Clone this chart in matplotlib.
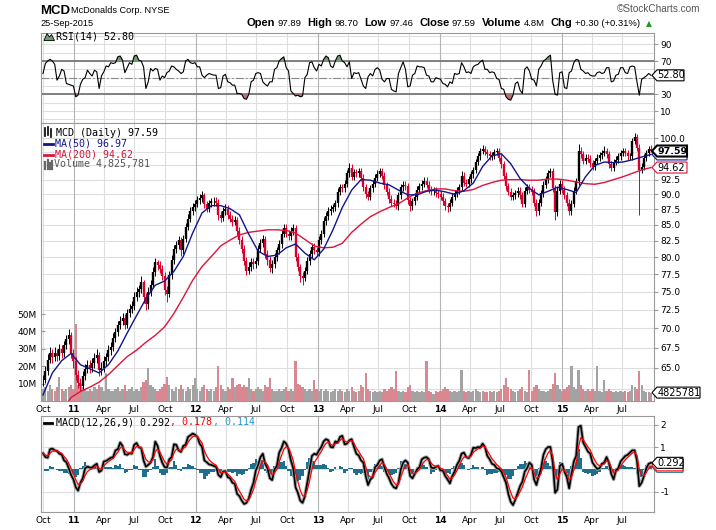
import matplotlib
matplotlib.use("Agg")
import matplotlib.pyplot as plt
from matplotlib.lines import Line2D
from matplotlib.patches import Polygon
from matplotlib import font_manager
import matplotlib.ticker as mticker
import numpy as np
import pandas as pd

plt.rcParams["font.family"] = ["DejaVu Sans"]
plt.rcParams["axes.unicode_minus"] = False

W, H = 716, 530

# weekly samples (Friday of each week)
weeks = pd.date_range("2010-10-01", periods=261, freq="7D")

close = [
    63.5, 64.6, 66.0, 66.8, 66.3, 66.9, 66.5, 67.4, 66.8, 67.8,
    68.6, 69.2, 66.8, 65.8, 64.2, 63.2, 62.8, 64.0, 64.9, 65.4,
    65.0, 65.6, 66.2, 66.6, 64.8, 65.0, 65.9, 66.3, 67.2, 67.6,
    68.8, 69.5, 70.4, 71.0, 71.4, 70.5, 72.0, 72.6, 73.0, 74.2,
    74.9, 75.3, 76.3, 74.2, 73.3, 75.0, 76.0, 77.8, 79.2, 78.8,
    78.3, 77.2, 75.2, 74.6, 77.4, 79.6, 81.2, 81.8, 82.6, 81.0,
    82.8, 84.6, 86.0, 87.2, 87.8, 88.4, 89.0, 89.3, 89.8, 88.3,
    87.6, 88.5, 88.8, 88.9, 88.6, 86.5, 86.1, 87.2, 87.6, 86.6,
    86.0, 85.4, 85.8, 84.0, 82.6, 81.2, 79.4, 78.0, 78.6, 79.2,
    79.0, 79.4, 81.2, 82.2, 82.8, 80.5, 79.5, 78.4, 79.0, 80.0,
    81.0, 82.0, 83.6, 84.5, 83.6, 83.2, 84.0, 84.5, 80.0, 78.5,
    77.2, 77.0, 78.0, 79.4, 80.5, 81.5, 81.0, 80.8, 82.6, 83.6,
    85.6, 86.4, 87.2, 87.6, 87.8, 88.5, 90.4, 91.2, 91.0, 91.8,
    93.6, 94.6, 93.0, 93.8, 93.6, 94.0, 92.8, 91.2, 90.0, 89.6,
    91.0, 91.8, 92.8, 93.5, 94.0, 93.2, 91.5, 90.4, 89.2, 88.6,
    88.4, 88.0, 89.8, 91.2, 91.6, 91.4, 89.0, 88.0, 88.8, 89.6,
    90.8, 91.4, 91.8, 92.3, 91.6, 90.8, 90.5, 90.6, 90.2, 90.0,
    89.6, 88.8, 88.0, 87.8, 88.6, 89.6, 90.2, 90.6, 91.2, 93.2,
    92.0, 91.8, 92.6, 93.4, 94.2, 95.6, 96.6, 97.6, 98.0, 97.4,
    97.0, 96.6, 96.8, 97.4, 97.6, 96.4, 95.2, 93.2, 91.4, 90.4,
    89.6, 89.8, 90.2, 90.6, 89.8, 88.4, 90.6, 91.2, 90.8, 90.4,
    88.6, 87.2, 88.6, 90.2, 91.6, 92.6, 93.6, 94.0, 91.0, 87.0,
    90.6, 91.8, 90.8, 89.8, 88.6, 87.2, 88.4, 90.6, 92.2, 97.6,
    97.0, 95.8, 96.4, 96.2, 95.4, 94.8, 95.8, 96.4, 96.8, 97.2,
    97.6, 97.0, 95.2, 94.6, 95.6, 96.0, 96.6, 97.2, 97.6, 97.2,
    96.6, 96.6, 99.4, 100.2, 98.2, 94.2, 94.8, 96.4, 97.2, 97.9, 97.59,
]

high = [
    64.2, 65.3, 66.7, 67.6, 67.4, 67.6, 67.4, 68.0, 67.9, 68.4,
    69.2, 69.9, 69.5, 67.4, 66.3, 64.8, 63.8, 64.6, 65.5, 66.0,
    66.0, 66.2, 66.8, 67.4, 67.0, 65.7, 66.5, 66.9, 67.8, 68.3,
    69.4, 70.1, 71.0, 71.7, 72.0, 71.9, 72.6, 73.3, 73.7, 74.9,
    75.6, 76.0, 77.2, 76.6, 74.8, 75.7, 76.7, 78.5, 79.8, 79.6,
    79.4, 78.9, 77.8, 75.8, 78.0, 80.3, 81.9, 82.5, 83.3, 83.0,
    83.4, 85.3, 86.7, 87.9, 88.6, 89.0, 89.7, 90.0, 90.5, 90.2,
    88.9, 89.1, 89.4, 89.5, 89.6, 89.2, 87.2, 87.8, 88.3, 88.2,
    87.2, 86.6, 86.4, 86.3, 84.6, 83.2, 81.8, 80.0, 79.2, 79.9,
    79.9, 80.0, 81.8, 82.8, 83.4, 83.2, 81.1, 80.1, 79.6, 80.6,
    81.6, 82.6, 84.2, 85.1, 85.1, 84.2, 84.6, 85.2, 85.0, 80.6,
    79.0, 77.8, 78.6, 80.0, 81.1, 82.1, 82.1, 81.6, 83.2, 84.2,
    86.2, 87.0, 87.8, 88.2, 88.4, 89.1, 91.0, 91.8, 91.8, 92.4,
    94.2, 95.4, 95.2, 94.4, 94.4, 94.6, 94.6, 93.4, 91.8, 90.6,
    91.6, 92.4, 93.4, 94.1, 94.6, 94.6, 93.8, 92.1, 91.0, 89.8,
    89.2, 89.0, 90.4, 91.8, 92.2, 92.2, 92.0, 89.6, 89.4, 90.2,
    91.4, 92.0, 92.4, 92.9, 92.9, 92.2, 91.4, 91.2, 91.2, 90.8,
    90.6, 90.2, 89.4, 88.6, 89.2, 90.2, 90.8, 91.2, 91.8, 94.0,
    93.8, 92.6, 93.2, 94.0, 94.8, 96.2, 97.2, 98.2, 98.7, 98.6,
    98.0, 97.6, 97.4, 98.0, 98.2, 98.2, 97.0, 95.8, 93.8, 92.0,
    91.0, 90.4, 90.8, 91.2, 91.2, 90.4, 91.2, 91.8, 91.8, 91.4,
    91.0, 89.2, 89.2, 90.8, 92.2, 93.2, 94.2, 94.6, 94.6, 91.6,
    91.2, 92.5, 92.4, 91.4, 90.4, 89.2, 89.0, 91.2, 92.8, 98.8,
    98.4, 97.6, 97.0, 97.0, 96.8, 96.0, 96.4, 97.0, 97.4, 97.8,
    98.6, 98.2, 97.6, 95.8, 96.2, 96.6, 97.2, 97.8, 98.2, 98.2,
    97.8, 97.2, 100.0, 101.0, 100.8, 98.8, 95.4, 97.0, 97.8, 98.5, 98.7,
]

low = [
    62.9, 63.2, 64.2, 65.6, 65.6, 65.8, 65.8, 66.0, 66.2, 66.4,
    67.3, 68.0, 66.2, 65.0, 63.6, 62.6, 62.2, 62.4, 63.5, 64.4,
    64.4, 64.5, 65.0, 65.6, 64.0, 64.2, 64.5, 65.3, 65.8, 66.6,
    67.1, 68.3, 69.0, 69.9, 70.4, 69.9, 70.1, 71.5, 72.0, 72.5,
    73.7, 74.3, 74.8, 73.4, 72.4, 72.6, 74.4, 75.5, 77.2, 78.1,
    77.6, 76.6, 74.5, 73.6, 74.2, 76.8, 79.0, 80.6, 81.3, 80.2,
    80.5, 82.3, 84.1, 85.5, 86.6, 87.2, 87.8, 88.4, 88.7, 87.7,
    87.0, 87.0, 87.9, 88.1, 88.0, 85.8, 85.4, 85.6, 86.6, 86.0,
    85.4, 84.8, 84.9, 83.4, 82.0, 80.6, 78.8, 77.4, 77.5, 78.0,
    78.3, 78.4, 78.9, 80.7, 81.6, 79.9, 78.9, 77.8, 77.6, 78.4,
    79.4, 80.4, 81.4, 83.0, 83.0, 82.6, 82.6, 83.4, 79.4, 77.9,
    76.4, 76.0, 76.5, 77.5, 78.9, 79.9, 80.4, 80.2, 80.2, 82.0,
    83.0, 85.0, 85.8, 86.6, 87.0, 87.2, 87.9, 89.8, 90.4, 90.4,
    91.2, 93.0, 92.4, 92.4, 93.0, 93.0, 92.2, 90.6, 89.4, 89.0,
    89.0, 90.4, 91.2, 92.2, 92.9, 92.6, 90.9, 89.8, 88.6, 88.0,
    87.8, 87.5, 87.4, 89.2, 90.6, 90.8, 88.4, 87.2, 87.4, 88.2,
    89.0, 90.2, 90.8, 91.2, 91.0, 90.2, 89.9, 89.9, 89.6, 89.4,
    89.0, 88.2, 87.4, 87.0, 87.2, 88.0, 89.0, 89.6, 90.0, 90.6,
    91.4, 91.2, 91.2, 92.0, 92.8, 93.6, 95.0, 96.0, 97.0, 96.8,
    96.4, 96.0, 96.0, 96.2, 96.8, 95.8, 94.6, 92.6, 90.8, 89.8,
    89.0, 89.0, 89.2, 89.6, 89.2, 87.8, 87.8, 90.0, 90.2, 89.8,
    88.0, 86.4, 86.6, 88.0, 89.6, 91.0, 92.0, 93.0, 90.4, 85.8,
    86.4, 90.0, 90.2, 89.2, 88.0, 86.6, 86.6, 87.8, 90.0, 91.6,
    96.4, 95.2, 95.2, 95.6, 94.8, 94.2, 94.2, 95.2, 95.8, 96.2,
    96.6, 96.4, 94.6, 94.0, 94.0, 95.0, 95.4, 96.0, 96.6, 96.6,
    96.0, 96.0, 96.0, 98.8, 97.6, 86.6, 93.6, 94.2, 95.8, 96.6, 97.46,
]

# volume in millions of shares
volume_m = [
    7, 8, 6, 9, 7, 6, 8, 14, 7, 6,
    7, 8, 9, 7, 44, 9, 10, 8, 7, 6,
    7, 6, 8, 7, 9, 8, 6, 16, 7, 6,
    6, 7, 8, 6, 7, 9, 6, 7, 8, 6,
    7, 6, 8, 11, 12, 19, 9, 8, 7, 6,
    7, 8, 10, 14, 9, 7, 6, 8, 7, 9,
    7, 6, 8, 7, 9, 13, 7, 6, 8, 9,
    7, 6, 7, 6, 8, 20, 9, 7, 6, 8,
    7, 13, 8, 9, 10, 8, 9, 8, 13, 7,
    6, 7, 8, 7, 6, 9, 8, 13, 7, 6,
    6, 7, 6, 7, 8, 6, 7, 6, 23, 10,
    9, 8, 7, 6, 7, 6, 12, 7, 6, 7,
    6, 7, 6, 5, 6, 7, 6, 7, 6, 5,
    7, 6, 8, 6, 5, 6, 9, 8, 16, 7,
    6, 5, 6, 5, 6, 5, 7, 6, 7, 8,
    7, 17, 6, 5, 6, 5, 8, 9, 6, 5,
    6, 5, 6, 5, 23, 6, 5, 4, 6, 5,
    6, 7, 8, 7, 6, 5, 6, 5, 6, 18,
    6, 5, 6, 5, 6, 7, 6, 5, 6, 5,
    5, 6, 5, 6, 5, 6, 7, 9, 13, 8,
    7, 6, 5, 6, 7, 8, 6, 5, 18, 6,
    8, 9, 7, 6, 6, 5, 6, 7, 10, 16,
    9, 7, 6, 7, 8, 9, 20, 8, 7, 18,
    9, 7, 6, 7, 6, 7, 6, 20, 6, 5,
    12, 6, 7, 6, 5, 6, 5, 6, 5, 6,
    5, 6, 9, 8, 7, 17, 9, 6, 5, 5, 4.83,
]

rsi14 = [
    55, 67, 70, 72, 70, 66, 47, 52, 60, 58,
    43, 42, 41, 40, 27, 29, 42, 48, 50, 59,
    55, 52, 59, 57, 37, 52, 57, 64, 63, 68,
    67, 68, 75, 76, 71, 56, 62, 68, 66, 76,
    77, 71, 70, 63, 37, 45, 61, 58, 61, 60,
    47, 52, 50, 56, 58, 64, 63, 60, 58, 55,
    57, 70, 72, 68, 67, 68, 63, 63, 53, 50,
    53, 55, 54, 53, 53, 37, 38, 52, 54, 45,
    44, 41, 41, 31, 31, 30, 25, 24, 30, 45,
    47, 55, 56, 55, 45, 42, 40, 45, 45, 60,
    62, 70, 73, 75, 62, 58, 34, 31, 28, 29,
    27, 28, 50, 54, 68, 69, 62, 58, 66, 64,
    72, 76, 74, 64, 62, 70, 76, 77, 70, 68,
    63, 69, 49, 56, 55, 56, 48, 40, 37, 51,
    55, 52, 60, 62, 59, 48, 45, 49, 49, 36,
    34, 33, 55, 62, 69, 60, 39, 40, 53, 55,
    64, 63, 63, 62, 53, 52, 45, 45, 50, 49,
    48, 43, 42, 39, 45, 43, 55, 54, 55, 68,
    63, 56, 57, 55, 63, 65, 66, 69, 71, 60,
    60, 56, 57, 56, 49, 48, 37, 36, 27, 24,
    23, 29, 43, 45, 35, 31, 60, 63, 58, 48,
    47, 40, 60, 64, 70, 72, 75, 77, 46, 30,
    29, 56, 57, 38, 37, 56, 58, 68, 72, 71,
    60, 58, 55, 56, 53, 52, 52, 56, 57, 55,
    56, 62, 62, 45, 46, 53, 54, 62, 62, 56,
    55, 63, 64, 63, 45, 29, 48, 50, 52, 55, 52.8,
]

macd_line = [
    0.72, 0.55, 0.52, 0.90, 0.93, 0.85, 0.82, 0.70, 0.66, 0.40,
    0.32, 0.05, -0.25, -0.45, -0.80, -0.95, -0.60, -0.40, 0.05, 0.12,
    0.08, 0.08, 0.18, 0.25, -0.12, -0.05, 0.35, 0.38, 0.45, 0.52,
    0.55, 0.85, 0.90, 1.20, 1.05, 0.68, 0.65, 0.72, 0.70, 1.10,
    1.18, 0.98, 0.96, 0.40, 0.12, 0.20, 0.30, 0.55, 1.24, 1.05,
    0.60, 0.30, 0.10, 0.08, 0.45, 0.55, 1.12, 1.10, 0.85, 0.78,
    1.05, 1.10, 1.45, 1.52, 1.60, 1.55, 1.45, 1.15, 1.00, 0.40,
    0.32, 0.22, 0.20, 0.15, 0.12, -0.25, -0.35, -0.10, -0.08, -0.35,
    -0.40, -0.60, -0.65, -1.10, -1.20, -1.40, -1.55, -1.50, -1.30, -0.90,
    -0.60, -0.05, 0.20, 0.55, 0.70, 0.25, 0.05, -0.40, -0.48, 0.00,
    0.15, 0.75, 0.95, 1.25, 1.15, 0.90, 0.40, 0.05, -0.80, -1.05,
    -1.40, -1.50, -1.20, -0.60, 0.00, 0.60, 0.70, 0.65, 0.85, 1.00,
    1.25, 1.35, 1.30, 1.00, 0.98, 1.25, 1.20, 1.45, 1.50, 1.12,
    1.15, 1.30, 1.35, 1.00, 0.70, 0.62, 0.40, 0.30, -0.30, -0.70,
    -0.45, -0.35, 0.10, 0.20, 0.40, 0.45, 0.10, -0.20, -0.40, -0.65,
    -0.80, -0.85, -0.60, 0.00, 0.30, 0.40, 0.30, -0.30, -0.40, -0.20,
    0.00, 0.10, 0.45, 0.52, 0.55, 0.45, 0.08, 0.05, 0.10, 0.15,
    -0.05, -0.05, -0.30, -0.45, -0.63, -0.30, -0.10, 0.20, 0.38, 0.70,
    0.75, 0.55, 0.50, 0.65, 0.97, 0.95, 1.00, 0.98, 1.15, 1.00,
    0.60, 0.45, 0.25, 0.20, 0.05, 0.02, -0.10, -0.35, -0.60, -1.10,
    -1.45, -1.60, -1.35, -1.05, -0.75, -0.55, -0.10, 0.05, 0.30, 0.20,
    -0.45, -0.70, -0.30, 0.05, 0.65, 0.90, 1.00, 1.00, 0.30, -1.05,
    -0.90, 0.15, 0.25, -0.10, -0.35, -0.85, -0.20, 0.35, 0.60, 1.90,
    1.95, 1.20, 1.00, 0.80, 0.70, 0.30, 0.15, 0.02, 0.05, 0.25,
    0.30, 0.55, 0.30, -0.20, -0.45, -0.05, 0.05, 0.35, 0.48, 0.60,
    0.65, 0.75, 0.85, 0.85, 0.40, -0.75, -0.60, -0.30, 0.05, 0.25, 0.292,
]

# moving averages read every 4 weeks
ma50_weeks = list(range(0, 261, 4))
ma50 = [
    61.8, 64.4, 65.9, 66.8, 65.4, 64.9, 64.4, 65.4, 67.1, 69.4,
    71.7, 74.0, 75.9, 76.5, 77.9, 80.1, 83.7, 86.9, 88.1, 88.1,
    87.6, 86.6, 83.5, 80.9, 80.1, 80.3, 81.4, 82.0, 80.6, 79.6,
    81.2, 84.2, 87.8, 90.7, 92.5, 92.4, 91.9, 91.6, 90.7, 89.9,
    89.9, 90.5, 90.7, 90.4, 90.0, 90.6, 91.9, 94.8, 96.7, 97.1,
    95.3, 92.7, 91.0, 89.9, 90.5, 91.2, 90.8, 90.3, 93.0, 95.0,
    95.6, 95.5, 95.6, 96.0, 96.5, 96.97,
]
ma200_weeks = [11] + list(range(12, 261, 4))
ma200 = [
    61.1,
    61.5, 62.2, 62.7, 63.3, 64.2, 65.3, 66.4, 67.2, 68.2, 69.1,
    70.2, 72.0, 74.2, 76.6, 78.6, 80.1, 81.7, 82.6, 83.4, 83.8,
    84.0, 84.2, 84.2, 84.1, 83.7, 82.7, 81.7, 81.4, 81.5, 82.1,
    83.8, 85.1, 86.3, 87.1, 87.8, 88.4, 89.4, 90.2, 90.6, 90.9,
    90.9, 90.6, 90.5, 90.8, 91.5, 92.0, 92.4, 92.5, 92.5, 92.4,
    92.4, 92.6, 92.6, 92.4, 92.1, 91.8, 91.7, 92.0, 92.5, 93.0,
    93.6, 94.2, 94.62,
]

for arr in (close, high, low, volume_m, rsi14, macd_line):
    assert len(arr) == len(weeks), len(arr)
assert len(ma50) == len(ma50_weeks) and len(ma200) == len(ma200_weeks)

price_ticks = [65.0, 67.5, 70.0, 72.5, 75.0, 77.5, 80.0, 82.5, 85.0, 87.5, 90.0, 92.5, 100.0]
price_grid = [62.5, 65.0, 67.5, 70.0, 72.5, 75.0, 77.5, 80.0, 82.5, 85.0, 87.5, 90.0, 92.5, 95.0, 97.5, 100.0]
vol_ticks = [10, 20, 30, 40, 50]

UP = "black"
DOWN = "#d9002c"
GRID = "#dedede"
YEARGRID = "#b4b4b4"
FRAME = "#9a9a9a"
TICKFS = 6.5

names = {f.name for f in font_manager.fontManager.ttflist}
NARROW = "Liberation Sans Narrow" if "Liberation Sans Narrow" in names else "Liberation Sans"

fig = plt.figure(figsize=(W / 100, H / 100), dpi=100)
fig.patch.set_facecolor("white")


def rect(l, t, r, b):
    return [l / W, 1 - b / H, (r - l) / W, (b - t) / H]


def fx(px):
    return px / W


def fy(py):
    return 1 - py / H


x_lo = pd.Timestamp("2010-09-25")
x_hi = pd.Timestamp("2015-10-04")
quarters = pd.date_range("2010-10-01", "2015-07-01", freq="QS-JAN")
qlabels = [("%02d" % (q.year % 100)) if q.month == 1 else q.strftime("%b") for q in quarters]


def frame(ax):
    for s in ax.spines.values():
        s.set_color(FRAME)
        s.set_linewidth(0.8)


def vgrid(ax):
    for q in quarters:
        ax.axvline(q, color=YEARGRID if q.month == 1 else GRID, lw=0.8, zorder=0)


def xlabels(ax):
    ax.set_xticks(quarters)
    ax.set_xticklabels(qlabels)
    ax.tick_params(axis="x", length=0, pad=3, labelsize=TICKFS)
    for lab, q in zip(ax.get_xticklabels(), quarters):
        if q.month == 1:
            lab.set_fontweight("bold")


def right_ticks(ax, ticks, labels):
    ax.yaxis.tick_right()
    ax.set_yticks(ticks)
    ax.set_yticklabels(labels)
    ax.yaxis.set_minor_locator(mticker.NullLocator())
    ax.tick_params(axis="y", length=3, width=0.8, color=FRAME, pad=1.5, labelsize=TICKFS)


_tag_z = [10]


def tag(ax, yval, text, width, ec="black", lw=0.8, bold=False, x_px=652):
    # value tag at the right edge; text=None draws only the (covered) box
    yd = ax.transData.transform((ax.get_xlim()[0], yval))[1]
    py = H - yd
    h = 11
    pts = [(x_px, py), (x_px + 5, py - h / 2), (x_px + width, py - h / 2),
           (x_px + width, py + h / 2), (x_px + 5, py + h / 2)]
    z = _tag_z[0]
    _tag_z[0] += 2
    fig.add_artist(Polygon([(fx(a), fy(b)) for a, b in pts], closed=True,
                           transform=fig.transFigure, fc="white", ec=ec, lw=lw, zorder=z))
    if text:
        fig.text(fx(x_px + 5.5), fy(py), text, fontsize=6.8 if bold else 7, va="center",
                 ha="left", fontweight="bold" if bold else "normal", zorder=z + 1)


def mono_pieces(px, py, pieces, size=7.2):
    # sequential pieces of monospace legend text
    step = 0.602 * size * 100 / 72
    n = 0
    for s, col in pieces:
        fig.text(fx(px + n * step), fy(py), s, fontsize=size, family="DejaVu Sans Mono",
                 color=col, va="center", ha="left", zorder=11)
        n += len(s)


def fline(xs, ys, **kw):
    fig.add_artist(Line2D([fx(a) for a in xs], [fy(b) for b in ys], **kw))


# ---------------- header ----------------
fig.text(fx(40), fy(10.5), "MCD", fontsize=9.5, fontweight="bold", family=NARROW, va="center")
fig.text(fx(71), fy(10.5), "McDonalds Corp. NYSE", fontsize=6.6, family="Liberation Sans", va="center")
fig.text(fx(40), fy(24), "25-Sep-2015", fontsize=6.6, family="Liberation Sans", va="center")
fig.text(fx(700), fy(9), "\u00a9StockCharts.com", fontsize=7.2, family="Liberation Sans",
         color="#555555", va="center", ha="right")

ohlc = [("Open", True), ("97.89", False), ("High", True), ("98.70", False),
        ("Low", True), ("97.46", False), ("Close", True), ("97.59", False),
        ("Volume", True), ("4.8M", False), ("Chg", True), ("+0.30 (+0.31%)", False)]
renderer = fig.canvas.get_renderer()
items = []
for s, b in ohlc:
    t = fig.text(0, fy(23.5), s, fontsize=8 if b else 6.8, va="center", ha="left",
                 family=NARROW if b else "Liberation Sans",
                 fontweight="bold" if b else "normal")
    items.append((t, t.get_window_extent(renderer).width, b))
arrow = fig.text(0, fy(23.5), "\u25b2", fontsize=5.5, color="#1a9a1a", va="center", ha="left")
aw = arrow.get_window_extent(renderer).width
gaps = [2.5 if b else 6 for _, _, b in items]
total = sum(w for _, w, _ in items) + sum(gaps) + aw
xcur = 652 - total
for (t, w, b), g in zip(items, gaps):
    t.set_x(fx(xcur))
    xcur += w + g
arrow.set_x(fx(xcur))

# ---------------- RSI panel ----------------
ax_r = fig.add_axes(rect(41, 33, 654, 123))
frame(ax_r)
ax_r.set_xlim(x_lo, x_hi)
ax_r.set_ylim(-4.4, 103.6)
for v in range(0, 101, 10):
    ax_r.axhline(v, color=GRID, lw=0.8, zorder=0)
vgrid(ax_r)
ax_r.axhline(70, color="#6e6e6e", lw=1.2, zorder=1)
ax_r.axhline(30, color="#6e6e6e", lw=1.2, zorder=1)
ax_r.axhline(50, color="#8a8a8a", lw=0.8, ls=(0, (7, 2, 1.5, 2)), zorder=1)
r = np.array(rsi14, dtype=float)
ax_r.fill_between(weeks, 70, r, where=r > 70, interpolate=True, color="#6f9f6f", lw=0, zorder=2)
ax_r.fill_between(weeks, 30, r, where=r < 30, interpolate=True, color="#b97070", lw=0, zorder=2)
ax_r.plot(weeks, r, color="black", lw=0.8, zorder=3)
ax_r.set_xticks([])
right_ticks(ax_r, [10, 30, 70, 90], ["10", "30", "70", "90"])
fig.add_artist(Polygon([(fx(a), fy(b)) for a, b in
                        [(44, 40.5), (47, 33.5), (49.5, 37), (51.5, 34.5), (54.5, 40.5)]],
                       closed=True, transform=fig.transFigure, fc="#6f9f6f", ec="black", lw=0.6))
mono_pieces(56, 36.5, [("RSI(14) 52.80", "black")])
tag(ax_r, 52.80, "52.80", 32)

# ---------------- price / volume panel ----------------
prect = rect(41, 123, 654, 401)
ax_bg = fig.add_axes(prect)
ax_bg.set_zorder(0)
ax_bg.set_yscale("log")
ax_bg.set_xlim(x_lo, x_hi)
ax_bg.set_ylim(61.1, 102.85)
for p in price_grid:
    ax_bg.axhline(p, color=GRID, lw=0.8, zorder=0)
vgrid(ax_bg)
ax_bg.set_xticks([])
ax_bg.set_yticks([])
ax_bg.yaxis.set_minor_locator(mticker.NullLocator())
frame(ax_bg)

ax_v = fig.add_axes(prect)
ax_v.set_zorder(1)
ax_v.patch.set_visible(False)
for s in ax_v.spines.values():
    s.set_visible(False)
ax_v.set_xlim(x_lo, x_hi)
ax_v.set_ylim(0, 159.8)
c = np.array(close, dtype=float)
o = np.r_[c[0], c[:-1]]
up = c >= o
vcol = np.where(up, "#a3a3a3", "#d98892")
ax_v.bar(weeks, volume_m, width=6.6, color=vcol, lw=0)
ax_v.set_xticks([])
ax_v.set_yticks(vol_ticks)
ax_v.set_yticklabels(["%dM" % v for v in vol_ticks])
ax_v.tick_params(axis="y", direction="in", length=3, width=0.8, color=FRAME, pad=3, labelsize=TICKFS)

ax_p = fig.add_axes(prect)
ax_p.set_zorder(2)
ax_p.patch.set_visible(False)
for s in ax_p.spines.values():
    s.set_visible(False)
ax_p.set_yscale("log")
ax_p.set_xlim(x_lo, x_hi)
ax_p.set_ylim(61.1, 102.85)
pcol = np.where(up, UP, DOWN)
ax_p.vlines(weeks, low, high, colors=pcol, lw=0.7)
ax_p.vlines(weeks, np.minimum(o, c), np.maximum(o, c), colors=pcol, lw=1.7)
ax_p.plot(weeks[ma200_weeks], ma200, color="#dc143c", lw=1.0)
ax_p.plot(weeks[ma50_weeks], ma50, color="#14148c", lw=1.0)
right_ticks(ax_p, price_ticks, ["%.1f" % v for v in price_ticks])
xlabels(ax_p)

# legend of the price panel
for xx, y1, y2 in [(45, 128, 136), (48, 127, 135), (51, 129, 137)]:
    fline([xx, xx], [y1, y2], color="black", lw=1.2)
mono_pieces(56, 132.5, [("MCD (Daily) 97.59", "black")])
fline([44, 53], [144, 144], color="#14148c", lw=2)
mono_pieces(55, 144, [("MA(50) 96.97", "#14148c")])
fline([44, 53], [154.5, 154.5], color="#dc143c", lw=2)
mono_pieces(55, 154.5, [("MA(200) 94.62", "#dc143c")])
for xx, y1 in [(45, 162), (47.5, 160), (50, 163), (52, 161)]:
    fline([xx, xx], [y1, 168.5], color="#666666", lw=1.6)
mono_pieces(54.5, 164.5, [("Volume 4,825,781", "#555555")])

tag(ax_p, 96.97, None, 35, ec="#14148c")
tag(ax_p, 94.62, "94.62", 35, ec="#dc143c")
tag(ax_p, 97.59, "97.59", 35, lw=1.5, bold=True)
tag(ax_v, 4.825781, "4825781", 48)

# ---------------- MACD panel ----------------
ax_m = fig.add_axes(rect(41, 416, 654, 512))
frame(ax_m)
ax_m.set_xlim(x_lo, x_hi)
ax_m.set_ylim(-1.908, 2.387)
for v in (-1, 0, 1, 2):
    ax_m.axhline(v, color=GRID, lw=0.8, zorder=0)
vgrid(ax_m)
m = pd.Series(macd_line, dtype=float)
sig = m.ewm(alpha=0.45, adjust=False).mean()
hist = m - sig
ax_m.bar(weeks, hist, width=7, color="#1f6e8c", lw=0, zorder=1)
ax_m.plot(weeks, m, color="#a8a8a8", lw=2.6, zorder=2, solid_capstyle="round")
ax_m.plot(weeks, m, color="black", lw=1.2, zorder=3)
ax_m.plot(weeks, sig, color="#ff0000", lw=0.9, zorder=4)
right_ticks(ax_m, [-1, 1, 2], ["-1", "1", "2"])
xlabels(ax_m)
fline([44, 52], [422.5, 422.5], color="black", lw=2)
mono_pieces(56, 422.5, [("MACD(12,26,9) 0.292", "black"), (", 0.178", "#ff0000"),
                        (", 0.114", "#2996c8")])
tag(ax_m, 0.114, None, 31, ec="#1f6e8c")
tag(ax_m, 0.178, None, 31, ec="#ff0000")
tag(ax_m, 0.292, "0.292", 31)

fig.savefig("out.png", dpi=100, facecolor="white")
